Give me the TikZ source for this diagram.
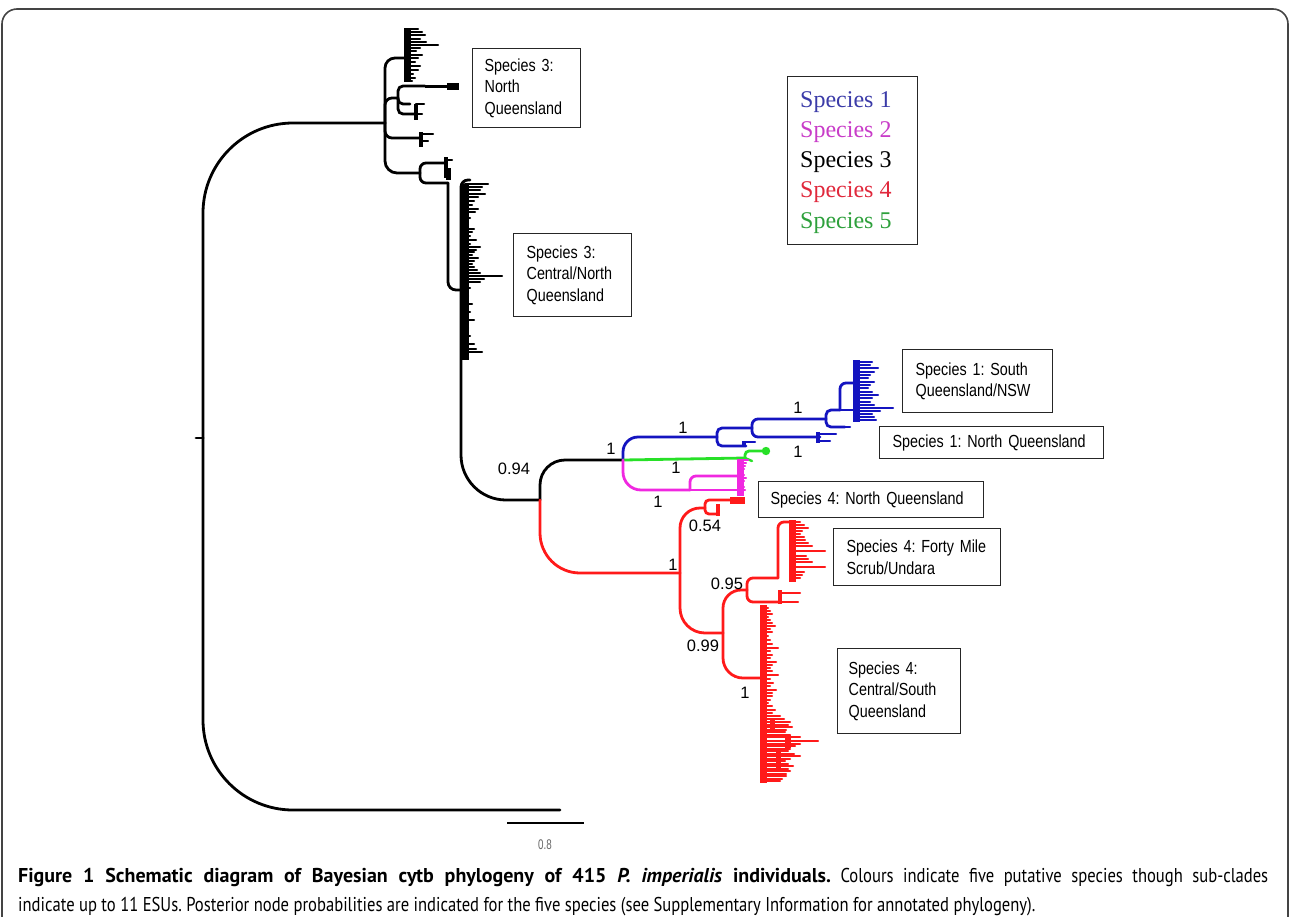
\documentclass[tikz,border=0pt]{standalone}
\usepackage{fontspec}
\setmainfont{Liberation Serif}
\newfontfamily\boxfont[FakeStretch=0.82]{Liberation Sans}
\newfontfamily\numfont{Liberation Sans}
\newfontfamily\scalefont[FakeStretch=0.7]{Liberation Sans}
\newfontfamily\legfont{Liberation Serif}
\newfontfamily\capfont[FakeStretch=0.83,BoldFeatures={FakeStretch=1.0},BoldItalicFeatures={FakeStretch=1.0}]{PT Sans}
\definecolor{tblue}{HTML}{1414C0}
\definecolor{tmag}{HTML}{F028E0}
\definecolor{tgreen}{HTML}{28E028}
\definecolor{tred}{HTML}{FF1A1A}
\definecolor{lblue}{HTML}{3B3BA8}
\definecolor{lmag}{HTML}{C83CC8}
\definecolor{lred}{HTML}{E0283C}
\definecolor{lgreen}{HTML}{2EA03C}
\definecolor{framec}{HTML}{444444}
\begin{document}
\frenchspacing
\begin{tikzpicture}[x=1pt,y=-1pt,
  br/.style={line width=2.8pt, rounded corners=7pt, line cap=round},
  tipl/.style={line width=2.4pt, line cap=round},
  cbar/.style={line width=7pt},
  lbox/.style={draw=black!85, line width=1.3pt, fill=white, align=left, anchor=north west,
     font=\boxfont\fontsize{17.5}{21.5}\selectfont, inner ysep=0pt},
  prob/.style={font=\numfont\fontsize{16.5}{16.5}\selectfont, inner sep=0pt},
  legt/.style={font=\legfont\fontsize{24}{24}\selectfont, anchor=base west, inner sep=0pt},
  capt/.style={font=\capfont\fontsize{20}{24}\selectfont, anchor=base west, inner sep=0pt}
]
\useasboundingbox (0,0) rectangle (1290,916);
% frame
\draw[framec, line width=1.6pt, rounded corners=15pt] (2,920) -- (2,9) -- (1288,9) -- (1288,920);

% ---------- tree coordinates ----------
\coordinate (rootstub) at (196,438);
\coordinate (root) at (203,438);
\coordinate (A) at (385,123);
\coordinate (out) at (560,810);
\coordinate (a1) at (404,58);
\coordinate (a2) at (398,98);
\coordinate (a21) at (425,86);
\coordinate (a22) at (416,114);
\coordinate (a3) at (420,138);
\coordinate (a4) at (420,173);
\coordinate (a41) at (446,163);
\coordinate (B) at (448,183);
\coordinate (C) at (461,290);
\coordinate (N94) at (540,500);
\coordinate (S) at (623,460);
\coordinate (b1) at (717,437);
\coordinate (b1t) at (746,446);
\coordinate (b2) at (752,428);
\coordinate (b2t) at (820,437);
\coordinate (b3) at (826,419);
\coordinate (b3t) at (845,427);
\coordinate (b4) at (840,410);
\coordinate (b5) at (855,383);
\coordinate (b6) at (855,410);
\coordinate (g1) at (745,458);
\coordinate (g2) at (764,451);
\coordinate (m1) at (690,490);
\coordinate (m2) at (738,476);
\coordinate (m3) at (738,490);
\coordinate (R1) at (680,573);
\coordinate (r1) at (705,508);
\coordinate (r1a) at (730,500);
\coordinate (r1b) at (718,514);
\coordinate (R2) at (723,633);
\coordinate (R3) at (747,590);
\coordinate (R3t) at (780,602);
\coordinate (R5) at (778,578);
\coordinate (R6) at (792,522);
\coordinate (R4) at (763,678);

% ---------- black (species 3) ----------
\draw[br] (rootstub) -- (root);
\draw[br, rounded corners=90pt] (root) |- (A);
\draw[br, rounded corners=90pt] (root) |- (out);
\draw[br, rounded corners=10pt] (A) |- (a1);
\draw[br] (A) |- (a2);
\draw[br] (A) |- (a3);
\draw[br, rounded corners=12pt] (A) |- (a4);
% a1 cluster
\draw[cbar] (407,28) -- (407,82);
\foreach \y/\l in {29/418,32/422,35/425,39/420,42/426,45/438,48/420,51/416,55/422,58/418,62/415,66/420,70/418,74/413,78/415,81/412}
  \draw[tipl] (407,\y) -- (\l,\y);
% a2
\draw[br, rounded corners=5pt] (a2) |- (a21);
\draw[line width=3pt] (a21) -- (458,86);
\draw[line width=7pt] (447,86) -- (459,86);
\draw[br, rounded corners=5pt] (a2) |- (a22);
\draw[br, rounded corners=5pt] (a2) |- (410,104);
\draw[tipl] (416,104) -- (424,104);
\draw[tipl] (a22) -- (422,114);
\draw[line width=4pt] (416,104) -- (416,120);
% a3
\draw[line width=4pt] (421,132) -- (421,147);
\draw[tipl] (421,134) -- (433,134);
\draw[tipl] (421,141) -- (428,141);
% a4
\draw[br, rounded corners=6pt] (a4) |- (a41);
\draw[br, rounded corners=6pt] (a4) |- (B);
\draw[line width=4pt] (446,157) -- (446,178);
\draw[tipl] (446,160) -- (452,160);
\draw[line width=5pt] (448,168) -- (448,180);
\draw[br, rounded corners=8pt] (B) |- (C);
% C cluster (central/north)
\draw[br] (C) |- (470,180);
\draw[cbar] (465,184) -- (465,360);
\foreach \y/\l in {184/488,187/482,190/480,194/485,197/478,201/474,205/472,209/478,212/475,218/470,225/468,229/474,232/472,236/470,240/476,
   244/470,247/480,250/476,252/474,255/472,258/478,261/474,264/472,267/474,270/477,273/480,276/502,279/484,282/480,288/470,296/468,304/472,312/470,
   320/474,328/468,336/470,344/474,349/476,352/482,358/468}
  \draw[tipl] (465,\y) -- (\l,\y);
\draw[br, rounded corners=45pt] (C) |- (N94);
\draw[br, rounded corners=25pt] (N94) |- (S);

% ---------- red (species 4) ----------
\draw[br, tred, rounded corners=40pt] (N94) |- (R1);
\draw[br, tred, rounded corners=20pt] (R1) |- (r1);
\draw[br, tred, rounded corners=4pt] (r1) |- (r1a);
\draw[tred, line width=7pt] (r1a) -- (745,500);
\draw[br, tred, rounded corners=4pt] (r1) |- (r1b);
\draw[tred, line width=4pt] (718,504) -- (718,516);
\draw[br, tred, rounded corners=25pt] (R1) |- (R2);
\draw[br, tred, rounded corners=18pt] (R2) |- (R3);
\draw[br, tred, rounded corners=20pt] (R2) |- (R4);
\draw[br, tred, rounded corners=6pt] (R3) |- (R5);
\draw[br, tred, rounded corners=6pt] (R3) |- (R3t);
\draw[tred, line width=4pt] (780,590) -- (780,604);
\draw[tipl, tred] (780,593) -- (800,593);
\draw[tipl, tred] (780,602) -- (798,602);
\draw[br, tred, rounded corners=6pt] (R5) |- (R6);
\draw[tred, cbar] (792,520) -- (792,582);
\foreach \y/\l in {522/800,525/804,528/808,531/802,534/800,537/804,540/805,543/808,546/812,551/825,556/806,559/808,562/812,567/825,572/804,575/802,578/800}
  \draw[tipl, tred] (792,\y) -- (\l,\y);
% central/south
\draw[tred, cbar] (763,605) -- (763,783);
\foreach \y/\l in {608/768,611/770,614/772,617/768,620/770,623/772,626/775,629/770,632/772,636/768,640/770,644/772,648/778,651/770,655/772,658/770,662/776,665/772,668/770,
   671/772,675/778,679/770,683/773,686/770,690/776,693/772,696/772,700/770,703/768,706/772,710/775,713/772,716/780,719/784,722/790,725/788,727/792,730/786,732/785,735/790,737/800,741/818,
   744/800,746/795,749/790,751/788,754/794,756/800,759/790,761/785,764/788,766/793,769/788,771/790,774/786,776/786,779/782,781/780}
  \draw[tipl, tred] (763,\y) -- (\l,\y);
\draw[tred, line width=5pt] (772,718) -- (772,730);
\draw[tred, line width=6pt] (788,735) -- (788,748);
\draw[tred, line width=5pt] (778,752) -- (778,768);

% ---------- blue (species 1) ----------
\draw[br, tblue, rounded corners=15pt] (S) |- (b1);
\draw[br, tblue, rounded corners=5pt] (b1) |- (b2);
\draw[br, tblue, rounded corners=5pt] (b1) |- (b1t);
\draw[tblue, line width=3.5pt] (744,441) -- (744,447);
\draw[tipl, tblue] (744,442) -- (755,442);
\draw[br, tblue, rounded corners=6pt] (b2) |- (b3);
\draw[br, tblue, rounded corners=6pt] (b2) |- (b2t);
\draw[tblue, line width=4pt] (818,432) -- (818,443);
\draw[tipl, tblue] (818,434) -- (836,434);
\draw[tipl, tblue] (818,441) -- (830,441);
\draw[br, tblue, rounded corners=5pt] (b3) |- (b4);
\draw[br, tblue, rounded corners=5pt] (b3) |- (b3t);
\draw[tipl, tblue] (b3t) -- (850,427);
\draw[br, tblue, rounded corners=6pt] (b4) |- (b5);
\draw[br, tblue] (b4) -- (b6);
\draw[tblue, cbar] (856,360) -- (856,422);
\foreach \y/\l in {362/872,365/870,368/878,372/874,375/870,378/868,382/874,385/870,388/868,392/872,395/878,398/872,402/870,405/874,408/893,411/880,414/872,417/874,420/876}
  \draw[tipl, tblue] (856,\y) -- (\l,\y);

% ---------- green (species 5) ----------
\draw[br, tgreen] (S) -- (g1);
\draw[br, tgreen, rounded corners=4pt] (g1) |- (g2);
\draw[tipl, tgreen] (g1) -- (752,461);
\fill[tgreen] (766,451) circle (4.2pt);

% ---------- magenta (species 2) ----------
\draw[br, tmag, rounded corners=18pt] (S) |- (m1);
\draw[br, tmag, rounded corners=6pt] (m1) |- (m2);
\draw[br, tmag] (m1) -- (m3);
\draw[tmag, cbar] (740,459) -- (740,496);
\foreach \y/\l in {460/748,463/746,466/745,469/744,472/742,475/744,478/746,481/744,484/742,487/744,490/745,493/742,495/740}
  \draw[tipl, tmag] (740,\y) -- (\l,\y);

% ---------- scale bar ----------
\coordinate (sb1) at (507,823);
\coordinate (sb2) at (584,823);
\draw[line width=2.8pt] (sb1) -- (sb2);
\node[font=\scalefont\fontsize{14}{14}\selectfont, text=black!60, inner sep=0pt] (sblab) at (545,845) {0.8};

% ---------- probabilities ----------
\node[prob] (p094) at (514,469) {0.94};
\node[prob] (p1a) at (611,449) {1};
\node[prob] (p1b) at (683,428) {1};
\node[prob] (p1c) at (676,468) {1};
\node[prob] (p1d) at (658,502) {1};
\node[prob] (p1e) at (798,408) {1};
\node[prob] (p1f) at (798,452) {1};
\node[prob] (p054) at (705,526) {0.54};
\node[prob] (p1g) at (673,565) {1};
\node[prob] (p095) at (727,584) {0.95};
\node[prob] (p099) at (703,646) {0.99};
\node[prob] (p1h) at (745,693) {1};

% ---------- label boxes ----------
\node[lbox, inner xsep=12pt, text width=84pt, minimum height=79pt] (box1) at (472,48)
  {\mbox{Species 3:}\\\mbox{North}\\\mbox{Queensland}};
\node[lbox, inner xsep=13pt, text width=92pt, minimum height=83pt] (box2) at (513,233)
  {\mbox{Species 3:}\\\mbox{Central/North}\\\mbox{Queensland}};
\node[lbox, inner xsep=13pt, text width=124pt, minimum height=63pt] (box3) at (902,349)
  {\mbox{Species 1: South}\\\mbox{Queensland/NSW}};
\node[lbox, inner xsep=13pt, text width=198pt, minimum height=32pt] (box4) at (879,426)
  {\mbox{Species 1: North Queensland}};
\node[lbox, inner xsep=12pt, text width=201pt, minimum height=36pt] (box5) at (758,481)
  {\mbox{Species 4: North Queensland}};
\node[lbox, inner xsep=13pt, text width=141pt, minimum height=57pt] (box6) at (833,528)
  {\mbox{Species 4: Forty Mile}\\\mbox{Scrub/Undara}};
\node[lbox, inner xsep=11pt, text width=101pt, minimum height=85pt] (box7) at (837,648)
  {\mbox{Species 4:}\\\mbox{Central/South}\\\mbox{Queensland}};

% ---------- legend ----------
\node[draw=black!85, line width=1.3pt, minimum width=130pt, minimum height=168pt, anchor=north west, inner sep=0pt] (legend) at (787,76) {};
\node[legt, text=lblue] (leg1) at (800,107) {Species 1};
\node[legt, text=lmag] (leg2) at (800,137.5) {Species 2};
\node[legt, text=black] (leg3) at (800,167.5) {Species 3};
\node[legt, text=lred] (leg4) at (800,197.5) {Species 4};
\node[legt, text=lgreen] (leg5) at (800,228) {Species 5};

% ---------- caption ----------
\node[capt] (cap1) at (18,882) {\makebox[1250pt][s]{\textbf{Figure 1 Schematic diagram of Bayesian cytb phylogeny of 415 \textit{P. imperialis} individuals.} Colours indicate five putative species though sub-clades}};
\node[capt] (cap2) at (18,911) {indicate up to 11 ESUs. Posterior node probabilities are indicated for the five species (see Supplementary Information for annotated phylogeny).};
\end{tikzpicture}
\end{document}
